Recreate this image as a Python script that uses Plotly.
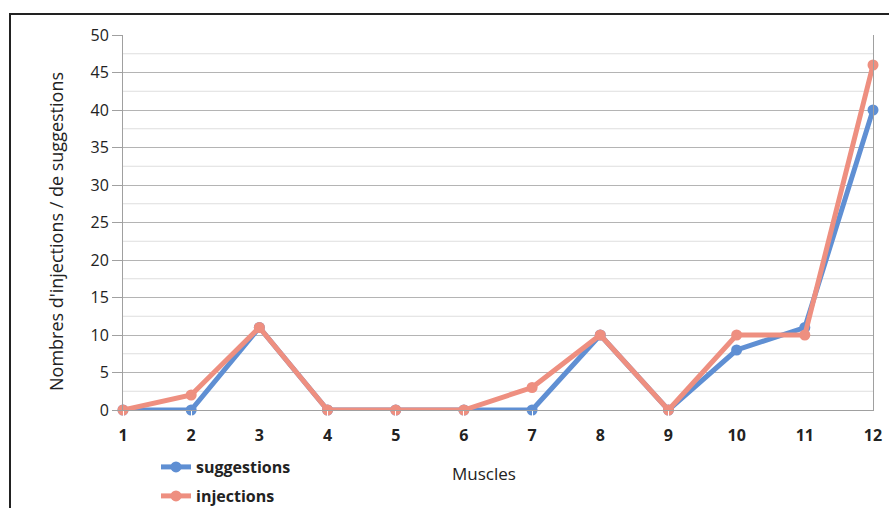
import plotly.graph_objects as go

muscles = [1, 2, 3, 4, 5, 6, 7, 8, 9, 10, 11, 12]
suggestions = [0, 0, 11, 0, 0, 0, 0, 10, 0, 8, 11, 40]
injections = [0, 2, 11, 0, 0, 0, 3, 10, 0, 10, 10, 46]

blue = "#5f8fd3"
salmon = "#ee8f80"
font_family = "Open Sans, DejaVu Sans, sans-serif"

W, H = 889, 508
L, R, T, B = 123, 16, 35, 98
pw, ph = W - L - R, H - T - B

fig = go.Figure()
fig.add_trace(go.Scatter(
    x=muscles, y=suggestions, name="suggestions", mode="lines+markers",
    line=dict(color=blue, width=5), marker=dict(color=blue, size=11),
    legend="legend",
))
fig.add_trace(go.Scatter(
    x=muscles, y=injections, name="injections", mode="lines+markers",
    line=dict(color=salmon, width=5), marker=dict(color=salmon, size=11),
    legend="legend2",
))

# minor gridlines at the half steps
for v in [2.5 + 5 * k for k in range(10)]:
    fig.add_shape(type="line", xref="paper", yref="y", x0=0, x1=1, y0=v, y1=v,
                  line=dict(color="#dedede", width=1), layer="below")

# outer frame
fig.add_shape(type="rect", xref="paper", yref="paper",
              x0=(10 - L) / pw, x1=(W + 5 - L) / pw,
              y0=-(H + 5 - (T + ph)) / ph, y1=(T + ph - 14) / ph,
              line=dict(color="#222222", width=2), fillcolor="rgba(0,0,0,0)")

# axis titles
fig.add_annotation(text="Muscles", xref="paper", yref="paper",
                   x=(484 - L) / pw, y=-(473 - (T + ph)) / ph,
                   xanchor="center", yanchor="middle", showarrow=False,
                   font=dict(size=17, color="#222222"))
fig.add_annotation(text="Nombres d'injections / de suggestions",
                   xref="paper", yref="paper",
                   x=-(L - 56) / pw, y=(T + ph - 232) / ph,
                   xanchor="center", yanchor="middle", textangle=-90,
                   showarrow=False, font=dict(size=18, color="#222222"))

legend_common = dict(
    xref="container", yref="container", xanchor="left", yanchor="middle",
    orientation="v", font=dict(size=16, color="#222222", weight="bold"),
    bgcolor="rgba(0,0,0,0)",
)

fig.update_layout(
    width=W, height=H,
    margin=dict(l=L, r=R, t=T, b=B, autoexpand=False),
    paper_bgcolor="white", plot_bgcolor="white",
    font=dict(family=font_family, color="#222222"),
    showlegend=True,
    legend=dict(x=156 / W, y=1 - 467 / H, **legend_common),
    legend2=dict(x=156 / W, y=1 - 496 / H, **legend_common),
    xaxis=dict(
        range=[1, 12], tickmode="array", tickvals=muscles,
        ticktext=[str(m) for m in muscles],
        tickfont=dict(size=16, color="#222222", weight="bold"),
        showgrid=False, zeroline=False, showline=True, linecolor="#a0a0a0",
        ticks="outside", ticklen=11, tickcolor="#ffffff",
    ),
    yaxis=dict(
        range=[0, 50], tickmode="linear", tick0=0, dtick=5,
        tickfont=dict(size=16, color="#222222"),
        showgrid=True, gridcolor="#b4b4b4", gridwidth=1,
        zeroline=False, showline=True, linecolor="#a0a0a0", mirror=True,
        ticks="outside", ticklen=10, tickcolor="#a0a0a0",
    ),
)
fig.update_traces(cliponaxis=False)

fig.write_html("out.html")
